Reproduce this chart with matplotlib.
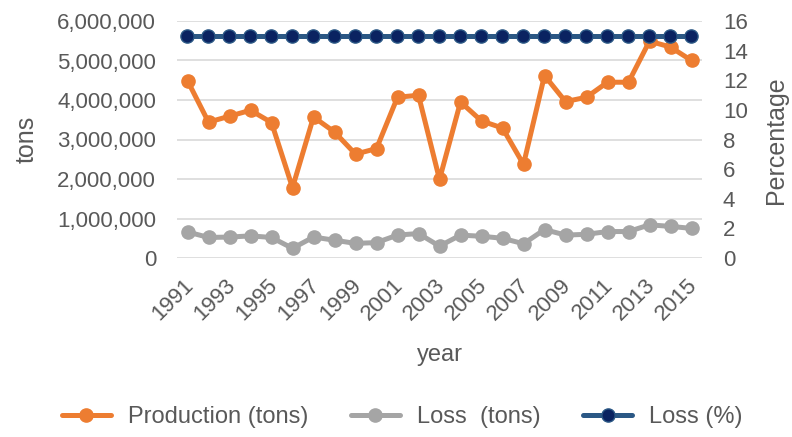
import numpy as np
import matplotlib.pyplot as plt
import matplotlib.transforms as mtransforms
from matplotlib.ticker import FuncFormatter

plt.rcParams['font.family'] = ['Liberation Sans', 'DejaVu Sans']

years = list(range(1991, 2016))
production = [4490000, 3440000, 3590000, 3740000, 3430000, 1780000, 3570000,
              3190000, 2630000, 2770000, 4070000, 4120000, 1990000, 3950000,
              3470000, 3290000, 2370000, 4620000, 3960000, 4070000, 4450000,
              4450000, 5490000, 5340000, 5000000]
loss_tons = [660000, 520000, 530000, 560000, 520000, 245000, 530000,
             450000, 370000, 390000, 580000, 620000, 300000, 580000,
             550000, 500000, 360000, 720000, 580000, 600000, 670000,
             670000, 840000, 800000, 750000]
loss_pct = [15] * 25

grey = '#595959'
W, H = 792, 437

fig = plt.figure(figsize=(W / 100, H / 100), dpi=100)
ax = fig.add_axes([177 / W, 1 - 258 / H, 525 / W, 237 / H])
ax2 = ax.twinx()

l1, = ax.plot(years, production, color='#ED7D31', lw=3.6, marker='o', ms=9.5,
              label='Production (tons)', solid_capstyle='round')
l2, = ax.plot(years, loss_tons, color='#A5A5A5', lw=3.6, marker='o', ms=9.5,
              label='Loss  (tons)', solid_capstyle='round')
l3, = ax2.plot(years, loss_pct, color='#2B5885', lw=3.6, marker='o', ms=9.5,
               mfc='#0A2361', mec='#2B5885', mew=1, label='Loss (%)',
               solid_capstyle='round')

ax.set_xlim(1990.5, 2015.5)
ax.set_ylim(0, 6000000)
ax2.set_ylim(0, 16)
ax.set_yticks(np.arange(0, 6000001, 1000000))
ax2.set_yticks(np.arange(0, 17, 2))
ax.yaxis.set_major_formatter(FuncFormatter(lambda v, p: f'{int(v):,}'))
ax.set_xticks(years[::2])
ax.set_xticklabels([str(y) for y in years[::2]], rotation=45, ha='right',
                   rotation_mode='anchor')

ax.grid(axis='y', color='#D9D9D9', lw=1.2)
ax.set_axisbelow(True)
for a in (ax, ax2):
    for s in a.spines.values():
        s.set_visible(False)
    a.tick_params(length=0, colors=grey, labelsize=16)
ax.tick_params(axis='x', labelsize=16, pad=12)
ax.tick_params(axis='y', pad=15)
ax2.tick_params(axis='y', pad=15)

# nudge the slanted year labels a little to the left
shift = mtransforms.ScaledTranslation(-5 / 100, 0, fig.dpi_scale_trans)
for lab in ax.get_xticklabels():
    lab.set_transform(lab.get_transform() + shift)

# axis titles placed directly in figure pixels
fig.text(27 / W, 1 - 139 / H, 'tons', rotation=90, ha='center', va='center',
         fontsize=18, color=grey)
fig.text(776 / W, 1 - 140 / H, 'Percentage', rotation=90, ha='center',
         va='center', fontsize=18, color=grey)
fig.text(440 / W, 1 - 355 / H, 'year', ha='center', va='center',
         fontsize=17, color=grey)

fig.legend(handles=[l1, l2, l3], loc='center', bbox_to_anchor=(402 / W, 1 - 417 / H),
           ncol=3, frameon=False, fontsize=17, handlelength=2.1,
           handletextpad=0.7, columnspacing=1.8, labelcolor=grey)

fig.savefig('out.png', dpi=100)
